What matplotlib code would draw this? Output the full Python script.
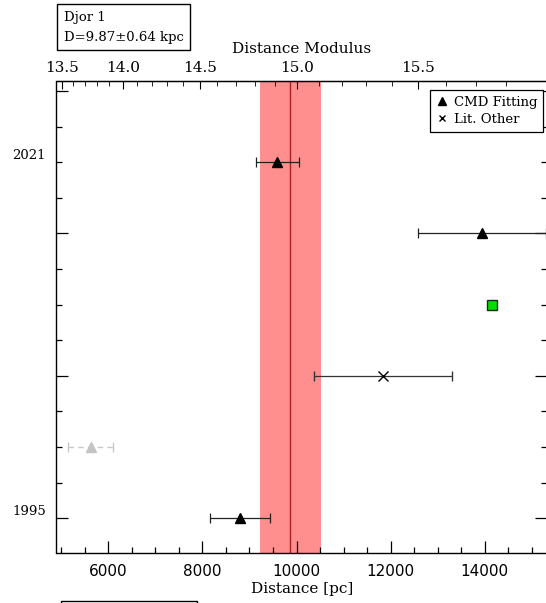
import numpy as np
import matplotlib
matplotlib.use("Agg")
import matplotlib.pyplot as plt
from matplotlib.ticker import MultipleLocator, NullFormatter, FixedLocator, FormatStrFormatter
from matplotlib.lines import Line2D
from matplotlib.patches import Rectangle

plt.rcParams['font.family'] = 'DejaVu Serif'

# Distance estimates for Djor 1 (rows from bottom, 0 = 1995, 5 = 2021)
CMD_ROWS = [5, 4, 0]
CMD_DIST = [9590, 13940, 8795]
CMD_ERR = [460, 1360, 630]

LIT_ROWS = [2]
LIT_DIST = [11840]
LIT_ERR = [1470]

FADED_ROWS = [1]
FADED_DIST = [5630]
FADED_ERR = [480]

GREEN_ROWS = [3]
GREEN_DIST = [14160]

YEAR_ROWS = [5, 0]
YEAR_LABELS = ["2021", "1995"]

MEAN_D = 9870
MEAN_ERR = 640

MU_MAJOR = [13.5, 14.0, 14.5, 15.0, 15.5]

W, H = 546, 603
fig = plt.figure(figsize=(W / 100, H / 100), dpi=100)
ax = fig.add_axes([56.5 / W, 50 / H, 490.5 / W, 472 / H])

ax.axvspan(MEAN_D - MEAN_ERR, MEAN_D + MEAN_ERR, color='#ff8e8e', lw=0, zorder=0)
ax.axvline(MEAN_D, color='#a82020', lw=1, zorder=1)

ax.errorbar(CMD_DIST, CMD_ROWS, xerr=CMD_ERR, fmt='^', color='black', ms=7,
            elinewidth=0.9, ecolor='#222222', capsize=3.5, capthick=0.9, zorder=3)
ax.errorbar(LIT_DIST, LIT_ROWS, xerr=LIT_ERR, fmt='x', color='black', ms=7, mew=1,
            elinewidth=0.9, ecolor='#333333', capsize=3.5, capthick=0.9, zorder=3)
eb = ax.errorbar(FADED_DIST, FADED_ROWS, xerr=FADED_ERR, fmt='^', color='#c4c4c4', ms=7,
                 elinewidth=1, ecolor='#c8c8c8', capsize=3.5, capthick=1, zorder=3)
eb[2][0].set_linestyle((0, (4, 3)))
ax.plot(GREEN_DIST, GREEN_ROWS, 's', mfc='#00e000', mec='#222222', ms=7, mew=1, zorder=3)

ax.set_xlim(4900, 15320)
ax.set_ylim(-0.49, 6.14)

ax.xaxis.set_major_locator(MultipleLocator(2000))
ax.xaxis.set_minor_locator(MultipleLocator(500))
ax.yaxis.set_major_locator(MultipleLocator(2))
ax.yaxis.set_minor_locator(MultipleLocator(0.5))
ax.yaxis.set_major_formatter(NullFormatter())
ax.tick_params(axis='x', which='both', direction='in', top=False, labelsize=11, pad=8)
ax.tick_params(axis='y', which='both', direction='in', right=True)
ax.tick_params(which='major', length=8.5, width=0.9)
ax.tick_params(which='minor', length=4, width=0.9)
for lab in ax.get_xticklabels():
    lab.set_fontfamily('DejaVu Sans')
ax.set_xlabel('Distance [pc]', fontsize=11, labelpad=2)

for r, t in zip(YEAR_ROWS, YEAR_LABELS):
    ax.text(-0.022, r, t, transform=ax.get_yaxis_transform(), ha='right', va='bottom',
            fontsize=9.5)

top = ax.secondary_xaxis('top', functions=(lambda d: 5 * np.log10(np.clip(d, 1, None)) - 5,
                                           lambda m: 10 ** (m / 5 + 1)))
top.xaxis.set_major_locator(FixedLocator(MU_MAJOR))
top.xaxis.set_minor_locator(FixedLocator(np.arange(13.5, 15.85, 0.1)))
top.xaxis.set_major_formatter(FormatStrFormatter('%.1f'))
top.tick_params(which='both', direction='in', labelsize=11, pad=4)
top.tick_params(which='major', length=6)
top.tick_params(which='minor', length=3.5)
top.set_xlabel('Distance Modulus', fontsize=11, labelpad=6)

for sp in ax.spines.values():
    sp.set_linewidth(1)

handles = [Line2D([], [], marker='^', ls='', color='black', ms=6),
           Line2D([], [], marker='x', ls='', color='black', ms=5)]
leg = ax.legend(handles, ['CMD Fitting', 'Lit. Other'], loc='upper right',
                bbox_to_anchor=((543 - 56.5) / 490.5, 1 - 9 / 472), borderaxespad=0,
                fontsize=9.5, handlelength=0.8, handletextpad=0.5, labelspacing=0.3,
                borderpad=0.45, fancybox=False, framealpha=1, edgecolor='black')
leg.get_frame().set_linewidth(0.9)

fig.patches.append(Rectangle((57 / W, 1 - 50 / H), 133 / W, 46 / H, transform=fig.transFigure,
                             fill=False, ec='black', lw=1))
fig.text(64 / W, 1 - 18 / H, 'Djor 1', fontsize=9.5, va='center')
fig.text(64 / W, 1 - 37 / H, 'D=9.87\u00b10.64 kpc', fontsize=9.5, va='center')
fig.patches.append(Rectangle((60.5 / W, -0.1), 136.5 / W, 0.1 + 2 / H, transform=fig.transFigure,
                             fill=False, ec='black', lw=1))

fig.savefig('out.png', dpi=100)
